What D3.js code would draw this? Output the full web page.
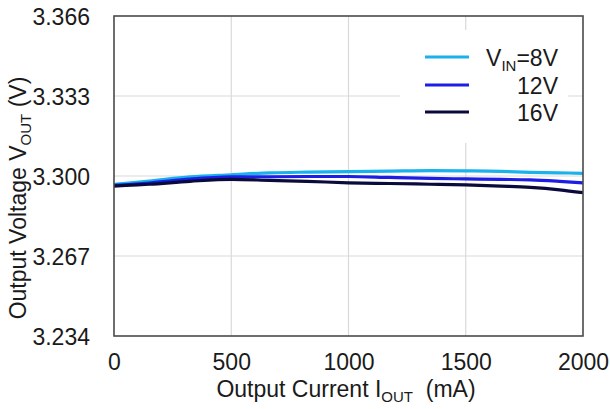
<!DOCTYPE html>
<html>
<head>
<meta charset="utf-8">
<script src="https://cdn.jsdelivr.net/npm/d3@7"></script>
<style>
  html, body { margin: 0; padding: 0; background: #fff; }
  svg { display: block; }
  text { font-family: "Liberation Sans", Arial, sans-serif; fill: #1a1a1a; }
</style>
</head>
<body>
<svg id="chart" width="610" height="409"></svg>
<script>
// ---- Data ----
const currents = [0, 50, 150, 324, 500, 665, 823, 1000, 1175, 1350, 1500, 1650, 1775, 1900, 2000];
const v8V  = [3.2965, 3.2970, 3.2979, 3.2996, 3.3005, 3.3013, 3.3016, 3.3018, 3.3020, 3.3022, 3.3021, 3.3019, 3.3015, 3.3013, 3.3011];
const v12V = [3.2961, 3.2964, 3.2971, 3.2987, 3.2996, 3.2997, 3.2998, 3.2998, 3.2994, 3.2990, 3.2988, 3.2986, 3.2984, 3.2978, 3.2972];
const v16V = [3.2958, 3.2961, 3.2966, 3.2978, 3.2986, 3.2982, 3.2978, 3.2972, 3.2969, 3.2966, 3.2963, 3.2958, 3.2953, 3.2943, 3.2931];
const seriesNames = ["8V", "12V", "16V"];
const seriesColors = ["#1ab2ea", "#1d1de6", "#0a0a3c"];
const xTicks = [0, 500, 1000, 1500, 2000];
const yTicks = [3.234, 3.267, 3.300, 3.333, 3.366];

const svg = d3.select("#chart");
const pL = 114, pR = 583, pT = 16, pB = 336;
const FS = "23px", SUB = "15px";

const x = d3.scaleLinear().domain([0, 2000]).range([pL, pR]);
const y = d3.scaleLinear().domain([3.234, 3.366]).range([pB, pT]);

// gridlines
const grid = svg.append("g");
grid.selectAll("line.vx").data(xTicks.slice(1, -1)).enter().append("line")
  .attr("x1", d => x(d)).attr("x2", d => x(d)).attr("y1", pT).attr("y2", pB)
  .attr("stroke", "#d9d9d9").attr("stroke-width", 1.2);
grid.selectAll("line.hy").data(yTicks.slice(1, -1)).enter().append("line")
  .attr("x1", pL).attr("x2", pR).attr("y1", d => y(d)).attr("y2", d => y(d))
  .attr("stroke", "#d9d9d9").attr("stroke-width", 1.2);

// legend background (white box that covers the grid)
svg.append("rect").attr("x", 400).attr("y", 30).attr("width", 168).attr("height", 113).attr("fill", "#fff");

// series
const seriesData = [v8V, v12V, v16V];
const line = d3.line().x(d => x(d[0])).y(d => y(d[1])).curve(d3.curveMonotoneX);
seriesData.forEach((vals, i) => {
  svg.append("path")
    .datum(currents.map((c, j) => [c, vals[j]]))
    .attr("d", line)
    .attr("fill", "none")
    .attr("stroke", seriesColors[i])
    .attr("stroke-width", 3.2);
});

// frame
svg.append("rect").attr("x", pL).attr("y", pT).attr("width", pR - pL).attr("height", pB - pT)
  .attr("fill", "none").attr("stroke", "#4a4a4a").attr("stroke-width", 1.6);

// axes (labels only)
const xAxis = d3.axisBottom(x).tickValues(xTicks).tickSize(0).tickPadding(0).tickFormat(d3.format("d"));
const gx = svg.append("g").attr("transform", `translate(0,${pB})`).call(xAxis);
gx.select(".domain").remove();
gx.selectAll("text").attr("dy", null).attr("y", 34).style("font-size", FS)
  .style("font-family", '"Liberation Sans", Arial, sans-serif').attr("fill", "#1a1a1a");

const yAxis = d3.axisLeft(y).tickValues(yTicks).tickSize(0).tickPadding(0).tickFormat(d3.format(".3f"));
const gy = svg.append("g").attr("transform", `translate(${pL},0)`).call(yAxis);
gy.select(".domain").remove();
gy.selectAll("text").attr("x", -24).attr("dy", "0.36em").style("font-size", FS)
  .style("font-family", '"Liberation Sans", Arial, sans-serif').attr("fill", "#1a1a1a");

// axis titles
const xt = svg.append("text").attr("x", 346).attr("y", 397).attr("text-anchor", "middle").style("font-size", FS);
xt.append("tspan").text("Output Current I");
xt.append("tspan").attr("dy", 5).style("font-size", SUB).text("OUT");
xt.append("tspan").attr("dy", -5).text("\u00a0 (mA)");

const yt = svg.append("text").attr("transform", "translate(26,198) rotate(-90)").attr("text-anchor", "middle").style("font-size", FS);
yt.append("tspan").text("Output Voltage V");
yt.append("tspan").attr("dy", 5).style("font-size", SUB).text("OUT");
yt.append("tspan").attr("dy", -5).text("\u00a0(V)");

// legend
const legY = [57, 85, 112];
seriesNames.forEach((n, i) => {
  svg.append("line").attr("x1", 425).attr("x2", 469).attr("y1", legY[i]).attr("y2", legY[i])
    .attr("stroke", seriesColors[i]).attr("stroke-width", 3.2);
  const t = svg.append("text").attr("x", 558).attr("y", legY[i] + 9).attr("text-anchor", "end").style("font-size", FS);
  if (i === 0) {
    t.append("tspan").text("V");
    t.append("tspan").attr("dy", 5).style("font-size", SUB).text("IN");
    t.append("tspan").attr("dy", -5).text("=" + n);
  } else {
    t.text(n);
  }
});
</script>
</body>
</html>
